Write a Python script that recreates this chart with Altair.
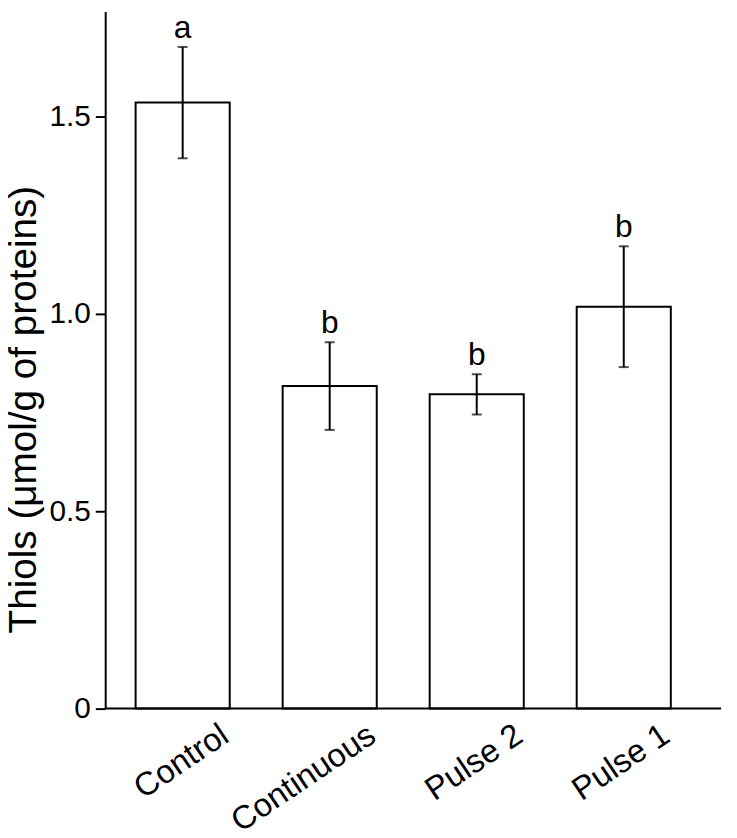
import altair as alt
import pandas as pd

groups = ["Control", "Continuous", "Pulse 2", "Pulse 1"]
means = [1.535, 0.817, 0.796, 1.018]
errors = [0.141, 0.111, 0.051, 0.153]
letters = ["a", "b", "b", "b"]
y_ticks = [0, 0.5, 1.0, 1.5]

df = pd.DataFrame({"group": groups, "mean": means, "err": errors, "letter": letters})
df["lo"] = df["mean"] - df["err"]
df["hi"] = df["mean"] + df["err"]

FONT = "Liberation Sans"
W, H = 621, 703

xscale = alt.Scale(domain=groups, range=[4, 597], paddingInner=0.36, paddingOuter=0.18)
yscale = alt.Scale(domain=[0, 1.766], nice=False, zero=True)

x = alt.X("group:N", scale=xscale, sort=groups,
          axis=alt.Axis(title=None, labelAngle=-34, labelAlign="right", labelBaseline="top",
                        labelFontSize=33, labelFont=FONT, labelColor="black", labelPadding=10,
                        labelOffset=34, ticks=False, domain=False))

base = alt.Chart(df)

bars = base.mark_bar(fill="white", stroke="black", strokeWidth=2).encode(
    x=x,
    y=alt.Y("mean:Q", scale=yscale,
            axis=alt.Axis(title="Thiols (μmol/g of proteins)", values=y_ticks,
                          labelExpr="datum.value == 0 ? '0' : format(datum.value, '.1f')",
                          labelFontSize=30, labelFont=FONT, labelColor="black", labelPadding=5,
                          titleFontSize=39, titleFont=FONT, titleFontWeight="normal",
                          titleColor="black", titleX=-70, titleY=401,
                          titleBaseline="alphabetic", titleAngle=270,
                          tickSize=10, tickWidth=2, tickColor="black",
                          domainColor="black", domainWidth=2, grid=False)),
)

baseline = alt.Chart(pd.DataFrame({"v": [0]})).mark_rule(color="black", strokeWidth=2).encode(
    x=alt.value(0), x2=alt.value(W), y=alt.value(H)
)

rules = base.mark_rule(color="black", strokeWidth=2).encode(
    x=alt.X("group:N", scale=xscale, sort=groups),
    y=alt.Y("lo:Q", scale=yscale),
    y2="hi:Q",
)

caps_hi = base.mark_tick(color="black", thickness=2, size=10, orient="horizontal").encode(
    x=alt.X("group:N", scale=xscale, sort=groups),
    y=alt.Y("hi:Q", scale=yscale),
)
caps_lo = base.mark_tick(color="black", thickness=2, size=10, orient="horizontal").encode(
    x=alt.X("group:N", scale=xscale, sort=groups),
    y=alt.Y("lo:Q", scale=yscale),
)

text = base.mark_text(font=FONT, fontSize=32, color="black", baseline="alphabetic", dy=-9).encode(
    x=alt.X("group:N", scale=xscale, sort=groups),
    y=alt.Y("hi:Q", scale=yscale),
    text="letter:N",
)

chart = alt.layer(bars, baseline, rules, caps_hi, caps_lo, text).properties(
    width=W, height=H,
    autosize=alt.AutoSizeParams(type="none"),
    padding={"left": 98, "top": 0, "right": 8, "bottom": 125}
).configure(background="white").configure_view(stroke=None)

chart.save("out.html", embed_options={"renderer": "svg", "actions": False})
